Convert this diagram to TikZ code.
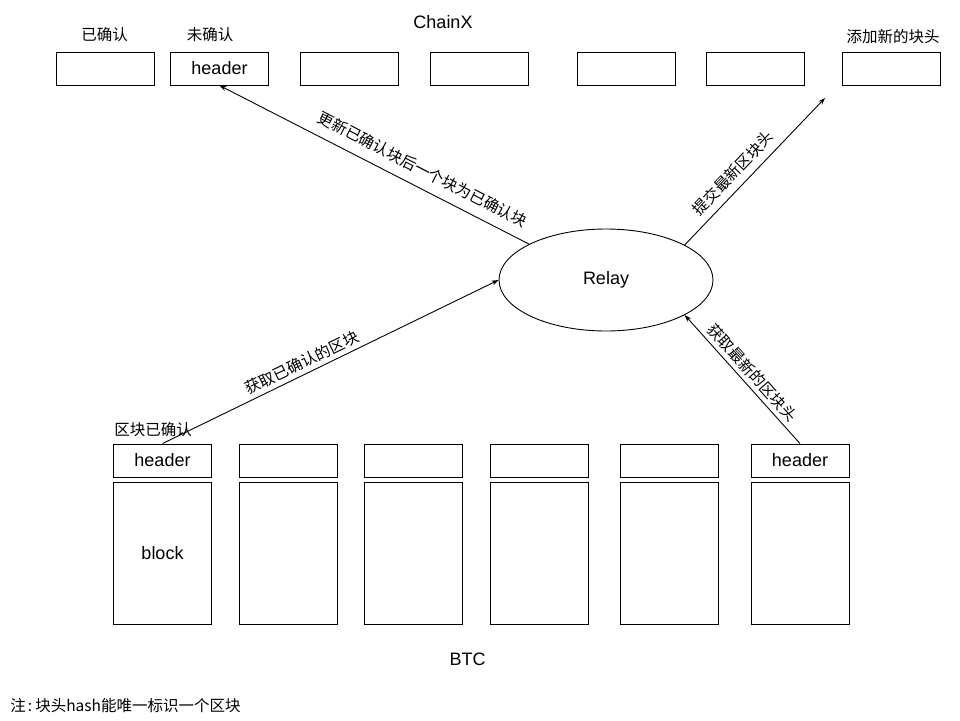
\documentclass[tikz,border=0pt]{standalone}
\usepackage{fontspec}
\setmainfont{Liberation Sans}
\newfontfamily\cjk{Noto Sans CJK SC}
\usetikzlibrary{arrows.meta, shapes.geometric}
\begin{document}
\begin{tikzpicture}[x=1pt, y=-1pt, line width=0.9pt,
		hbox/.style={draw, minimum width=98pt, minimum height=33pt, inner sep=0pt, font=\fontsize{18}{20}\selectfont},
		bbox/.style={draw, minimum width=98pt, minimum height=142pt, inner sep=0pt, font=\fontsize{18}{20}\selectfont},
		zh/.style={font=\cjk\fontsize{15.5}{18}\selectfont},
		en/.style={font=\fontsize{18}{20}\selectfont},
		arr/.style={-{Stealth[length=7pt, width=5pt]}}]
		\useasboundingbox (0,0) rectangle (960,720);
		
		% ChainX
		\node[en] (chainx) at (443,22) {ChainX};
		\node[hbox] (c1) at (105.5,68.5) {};
		\node[hbox] (c2) at (219.5,68.5) {header};
		\node[hbox] (c3) at (349,68.5) {};
		\node[hbox] (c4) at (479.5,68.5) {};
		\node[hbox] (c5) at (626.5,68.5) {};
		\node[hbox] (c6) at (755.5,68.5) {};
		\node[hbox] (c7) at (891,68.5) {};
		\node[zh] (confirmed) at (104.5,35) {已确认};
		\node[zh] (unconfirmed) at (210,35) {未确认};
		\node[zh] (newhead) at (893,37) {添加新的块头};
		\coordinate (tip) at (825,98);
		
		% Relay
		\node[draw, ellipse, minimum width=214pt, minimum height=102pt, en] (relay) at (606,280) {Relay};
		
		% BTC
		\node[hbox] (h1) at (162.5,460.5) {header};
		\node[hbox] (h2) at (288,460.5) {};
		\node[hbox] (h3) at (413,460.5) {};
		\node[hbox] (h4) at (539,460.5) {};
		\node[hbox] (h5) at (669.5,460.5) {};
		\node[hbox] (h6) at (800,460.5) {header};
		\node[bbox] (b1) at (162.5,553) {block};
		\node[bbox] (b2) at (288,553) {};
		\node[bbox] (b3) at (413,553) {};
		\node[bbox] (b4) at (539,553) {};
		\node[bbox] (b5) at (669.5,553) {};
		\node[bbox] (b6) at (800,553) {};
		\node[zh] (blockok) at (153,430) {区块已确认};
		\node[en] (btc) at (467.5,659) {BTC};
		\node[zh, anchor=west, inner sep=0pt] (note) at (10,706) {注\kern2pt:\kern3pt块头hash能唯一标识一个区块};
		
		\draw[arr] (relay.155) to node[zh, sloped, above=7pt, pos=0.37] {更新已确认块后一个块为已确认块} (c2.south);
		\draw[arr] (relay.24) to node[zh, sloped, above=4pt, pos=0.42] {提交最新区块头} (tip);
		\draw[arr] (h1.north) to node[zh, sloped, above=1pt, pos=0.43] {获取已确认的区块} (relay.west);
		\draw[arr] (h6.north) to node[zh, sloped, above=1pt, pos=0.49] {获取最新的区块头} (relay.-24);
		
	\end{tikzpicture}
\end{document}
